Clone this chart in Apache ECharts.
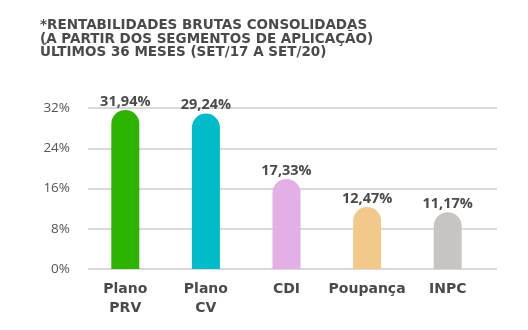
<!DOCTYPE html>
<html><head><meta charset="utf-8">
<script src="https://cdn.jsdelivr.net/npm/echarts@6/dist/echarts.min.js"></script>
<style>html,body{margin:0;padding:0;background:#fff}#c{width:528px;height:330px}</style>
</head><body><div id="c"></div>
<script>
const titleLines = ['*RENTABILIDADES BRUTAS CONSOLIDADAS', '(A PARTIR DOS SEGMENTOS DE APLICAÇÃO)', 'ÚLTIMOS 36 MESES (SET/17 A SET/20)'];
const categories = ['Plano\nPRV', 'Plano\nCV', 'CDI', 'Poupança', 'INPC'];
// bar heights as drawn in the picture (%)
const barHeights = [31.6, 30.9, 17.9, 12.3, 11.3];
// printed value labels
const valueLabels = ['31,94%', '29,24%', '17,33%', '12,47%', '11,17%'];
const colors = ['#2db400', '#00bccb', '#e4aee6', '#f2c98a', '#c8c4c4'];
const yTicks = [0, 8, 16, 24, 32];

const chart = echarts.init(document.getElementById('c'));
const font = '"Open Sans", sans-serif';
const wide = '"DejaVu Sans", sans-serif';
chart.setOption({
  animation: false,
  title: {
    text: titleLines.join('\n'), left: 35, top: 14,
    textStyle: {fontFamily: wide, fontWeight: 'bold', fontSize: 13.5, color: '#4a4a4a', lineHeight: 13.5}
  },
  grid: [
    {left: 88, right: 31, top: 108, bottom: 61},
    {left: 85, right: 40, top: 108, bottom: 61}
  ],
  xAxis: [
    {gridIndex: 0, type: 'category', data: categories, show: false},
    {gridIndex: 1, type: 'category', data: categories,
     axisLine: {show: false}, axisTick: {show: false},
     axisLabel: {margin: 11, fontFamily: wide, fontWeight: 'bold', fontSize: 14, color: '#4a4a4a', lineHeight: 19, interval: 0}}
  ],
  yAxis: [
    {gridIndex: 0, type: 'value', min: yTicks[0], max: yTicks[yTicks.length - 1], interval: 8,
     axisLine: {show: false}, axisTick: {show: false},
     axisLabel: {formatter: '{value}%', margin: 18, fontFamily: font, fontSize: 13.5, color: '#555'},
     splitLine: {lineStyle: {color: '#d9d9d9', width: 2}}},
    {gridIndex: 1, type: 'value', min: 0, max: 32, show: false}
  ],
  series: [{
    type: 'bar', xAxisIndex: 1, yAxisIndex: 1, barWidth: 28,
    data: barHeights.map((v, i) => ({value: v, itemStyle: {color: colors[i], borderRadius: [14, 14, 0, 0]}})),
    label: {show: true, position: 'top', distance: 1, formatter: p => valueLabels[p.dataIndex],
      fontFamily: font, fontWeight: 'bold', fontSize: 14.5, color: '#4a4a4a'}
  }]
});
</script></body></html>
